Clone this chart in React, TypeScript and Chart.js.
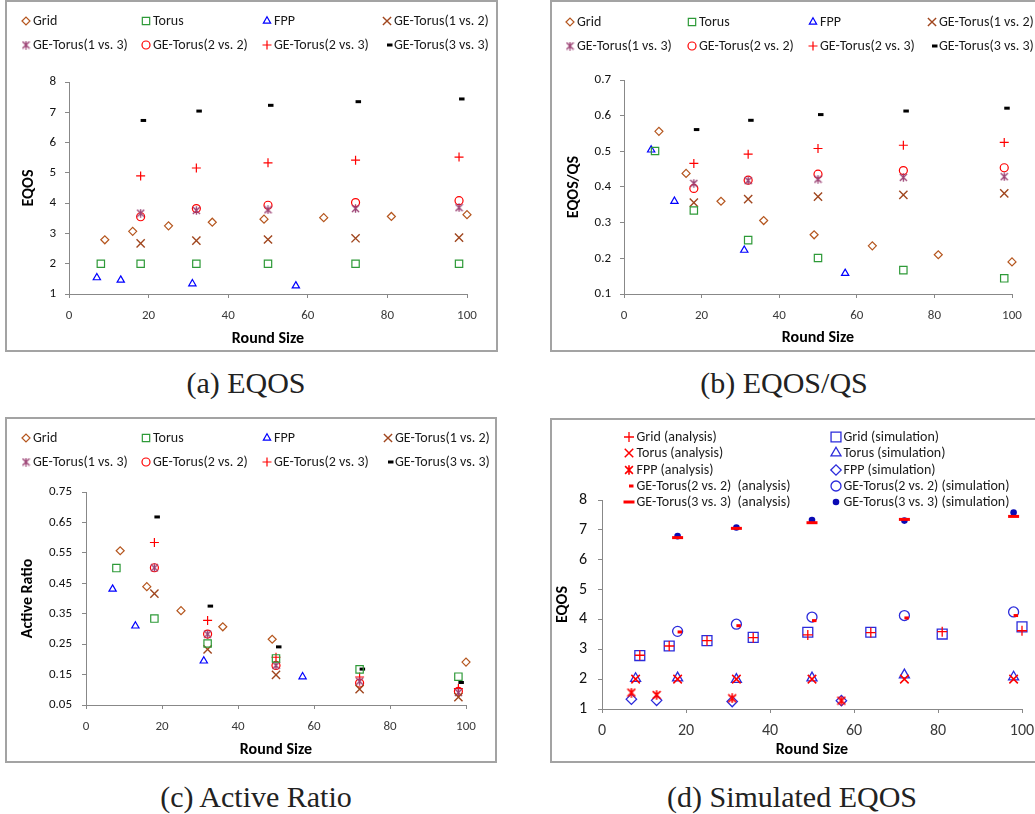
import React, { useEffect, useRef } from 'react';
import { Chart, registerables } from 'chart.js';
import { drawPoint } from 'chart.js/helpers';

Chart.register(...registerables);
Chart.defaults.font.family = 'Carlito';

// ---------------- data ----------------
const gridSizes = [9, 16, 25, 36, 49, 64, 81, 100];
const gridSizesActive = [9, 16, 25, 36, 49, 100];
const torusSizes = [8, 18, 32, 50, 72, 98];
const fppSizes = [7, 13, 31, 57];
const geSizes = [18, 32, 50, 72, 98];

const xTicks = [0, 20, 40, 60, 80, 100];
const eqosTicks = [1, 2, 3, 4, 5, 6, 7, 8];
const ratioTicks = [0.1, 0.2, 0.3, 0.4, 0.5, 0.6, 0.7];
const activeTicks = [0.05, 0.15, 0.25, 0.35, 0.45, 0.55, 0.65, 0.75];

const seriesLabels = [
  'Grid', 'Torus', 'FPP', 'GE-Torus(1 vs. 2)',
  'GE-Torus(1 vs. 3)', 'GE-Torus(2 vs. 2)', 'GE-Torus(2 vs. 3)', 'GE-Torus(3 vs. 3)',
];

// (a) EQOS
const aGrid = [2.79, 3.07, 3.25, 3.37, 3.47, 3.52, 3.56, 3.62];
const aTorus = [2, 2, 2, 2, 2, 2];
const aFpp = [1.54, 1.46, 1.34, 1.27];
const aGe12 = [2.67, 2.76, 2.8, 2.84, 2.86];
const aGe13 = [3.67, 3.76, 3.78, 3.82, 3.85];
const aGe22 = [3.55, 3.82, 3.93, 4.02, 4.08];
const aGe23 = [4.9, 5.16, 5.33, 5.42, 5.52];
const aGe33 = [6.73, 7.04, 7.23, 7.35, 7.44];

// (b) EQOS/QS
const bGrid = [0.556, 0.438, 0.36, 0.306, 0.266, 0.235, 0.21, 0.19];
const bTorus = [0.501, 0.334, 0.251, 0.201, 0.167, 0.144];
const bFpp = [0.504, 0.36, 0.223, 0.158];
const bGe12 = [0.356, 0.366, 0.373, 0.378, 0.382];
const bGe13 = [0.41, 0.418, 0.422, 0.427, 0.429];
const bGe22 = [0.396, 0.419, 0.436, 0.446, 0.454];
const bGe23 = [0.466, 0.492, 0.508, 0.517, 0.525];
const bGe33 = [0.561, 0.587, 0.603, 0.613, 0.621];

// (c) Active Ratio
const cGrid = [0.557, 0.439, 0.36, 0.307, 0.266, 0.191];
const cTorus = [0.5, 0.334, 0.252, 0.203, 0.167, 0.143];
const cFpp = [0.431, 0.31, 0.195, 0.143];
const cGe12 = [0.416, 0.233, 0.149, 0.102, 0.076];
const cGe13 = [0.501, 0.283, 0.18, 0.128, 0.091];
const cGe22 = [0.501, 0.283, 0.18, 0.122, 0.095];
const cGe23 = [0.584, 0.328, 0.207, 0.142, 0.104];
const cGe33 = [0.668, 0.375, 0.241, 0.168, 0.124];

// (d) Simulated EQOS
const dLabels = [
  'Grid (analysis)', 'Torus (analysis)', 'FPP (analysis)',
  'GE-Torus(2 vs. 2)  (analysis)', 'GE-Torus(3 vs. 3)  (analysis)',
  'Grid (simulation)', 'Torus (simulation)', 'FPP (simulation)',
  'GE-Torus(2 vs. 2) (simulation)', 'GE-Torus(3 vs. 3) (simulation)',
];
const dGridAnalysis = [2.8, 3.11, 3.29, 3.39, 3.48, 3.56, 3.59, 3.62];
const dTorusAnalysis = [2, 2, 2, 2, 2, 2];
const dFppAnalysis = [1.55, 1.47, 1.36, 1.28];
const dGe22Analysis = [3.58, 3.79, 3.96, 4.05, 4.13];
const dGe33Analysis = [6.74, 7.05, 7.24, 7.35, 7.45];
const dGridSim = [2.79, 3.11, 3.29, 3.4, 3.57, 3.57, 3.51, 3.75];
const dTorusSim = [2.02, 2.04, 1.99, 2.04, 2.14, 2.07];
const dFppSim = [1.33, 1.29, 1.25, 1.28];
const dGe22Sim = [3.6, 3.84, 4.08, 4.13, 4.25];
const dGe33Sim = [6.79, 7.08, 7.33, 7.31, 7.58];

// ---------------- styling ----------------
const AXIS = '#888888';
const TITLE_SIZE = 16;
const TITLE_FONT = { family: 'Carlito', size: TITLE_SIZE, weight: 'bold' as const };
const TITLE_LH = TITLE_SIZE * 1.2;

function makeAsterisk(color: string, size: number, lw: number) {
  const c = document.createElement('canvas');
  c.width = size;
  c.height = size;
  const g = c.getContext('2d')!;
  g.strokeStyle = color;
  g.lineWidth = lw;
  const m = lw / 2 + 0.3;
  g.beginPath();
  g.moveTo(m, m); g.lineTo(size - m, size - m);
  g.moveTo(size - m, m); g.lineTo(m, size - m);
  g.moveTo(size / 2, 0.3); g.lineTo(size / 2, size - 0.3);
  g.stroke();
  return c;
}

type Sty = { ps: any; r: number; bw: number; c: string; fill?: string };

function ds(label: string, xs: number[], ys: number[], s: Sty) {
  return {
    label,
    data: xs.map((x, i) => ({ x, y: ys[i] })),
    showLine: false,
    clip: false as any,
    pointStyle: s.ps,
    pointRadius: s.r,
    pointHoverRadius: s.r,
    pointBorderWidth: s.bw,
    pointBorderColor: s.c,
    pointBackgroundColor: s.fill ?? 'rgba(0,0,0,0)',
    borderColor: s.c,
    backgroundColor: s.fill ?? 'rgba(0,0,0,0)',
  };
}

function baseStyles(): Sty[] {
  return [
    { ps: 'rectRot', r: 4, bw: 1.2, c: '#B5561E' },
    { ps: 'rect', r: 5.2, bw: 1.2, c: '#2E9A38' },
    { ps: 'triangle', r: 4.2, bw: 1.2, c: '#0000FF' },
    { ps: 'crossRot', r: 5.8, bw: 1.4, c: '#A0461E' },
    { ps: makeAsterisk('#9A3F72', 9, 1.3), r: 4, bw: 1, c: '#9A3F72' },
    { ps: 'circle', r: 4, bw: 1.2, c: '#FF0000' },
    { ps: 'cross', r: 4.5, bw: 1.2, c: '#FF0000' },
    { ps: 'dash', r: 5.5, bw: 3, c: '#000000' },
  ];
}

function dStyles(): Sty[] {
  return [
    { ps: 'cross', r: 5, bw: 1.3, c: '#FF0000' },
    { ps: 'crossRot', r: 6, bw: 1.5, c: '#FF0000' },
    { ps: makeAsterisk('#FF0000', 10, 1.6), r: 4, bw: 1, c: '#FF0000' },
    { ps: 'dash', r: 4.5, bw: 3, c: '#FF0000' },
    { ps: 'line', r: 5.5, bw: 3, c: '#FF0000' },
    { ps: 'rect', r: 7, bw: 1.3, c: '#2B2BDB' },
    { ps: 'triangle', r: 5.8, bw: 1.3, c: '#2B2BDB' },
    { ps: 'rectRot', r: 5.2, bw: 1.3, c: '#2B2BDB' },
    { ps: 'circle', r: 5, bw: 1.3, c: '#2B2BDB' },
    { ps: 'circle', r: 3.3, bw: 0, c: '#0A0AB4', fill: '#0A0AB4' },
  ];
}

type LegendItem = { i: number; x: number; y: number };

function legendPlugin(items: LegendItem[], gap: number, font: string) {
  return {
    id: 'gridLegend',
    afterDraw(chart: any) {
      const ctx = chart.ctx;
      ctx.save();
      items.forEach((it) => {
        const d = chart.data.datasets[it.i];
        ctx.strokeStyle = d.pointBorderColor;
        ctx.fillStyle = d.pointBackgroundColor;
        ctx.lineWidth = d.pointBorderWidth;
        drawPoint(ctx, { pointStyle: d.pointStyle, rotation: 0, radius: d.pointRadius, borderWidth: d.pointBorderWidth } as any, it.x, it.y);
        ctx.fillStyle = '#1a1a1a';
        ctx.font = font;
        ctx.textAlign = 'left';
        ctx.textBaseline = 'middle';
        ctx.fillText(d.label, it.x + gap, it.y);
      });
      ctx.restore();
    },
  };
}

type Panel = {
  left: number; top: number; w: number; h: number;
  ca: { l: number; r: number; t: number; b: number };
  yTitleX: number; xTitleY: number; xTickY: number; yTickRight: number;
};

function scales(p: Panel, yVals: number[], yTitle: string, digits: number, xFont: any, yFont: any) {
  const xLH = xFont.size * 1.2;
  return {
    x: {
      type: 'linear' as const,
      min: 0,
      max: 100,
      afterBuildTicks: (s: any) => { s.ticks = xTicks.map((v) => ({ value: v })); },
      afterFit: (s: any) => { s.height = p.h - p.ca.b; },
      ticks: { font: xFont, color: '#3a3a3a', padding: p.xTickY - p.ca.b - 4 - xLH / 2, maxRotation: 0, autoSkip: false },
      grid: { drawOnChartArea: false, drawTicks: true, tickLength: 4, color: AXIS },
      border: { color: AXIS, width: 1 },
      title: { display: true, text: 'Round Size', font: TITLE_FONT, color: '#000', padding: { top: 0, bottom: p.h - p.xTitleY - TITLE_LH / 2 } },
    },
    y: {
      type: 'linear' as const,
      min: yVals[0],
      max: yVals[yVals.length - 1],
      afterBuildTicks: (s: any) => { s.ticks = yVals.map((v) => ({ value: v })); },
      afterFit: (s: any) => { s.width = p.ca.l; },
      ticks: {
        font: yFont, color: '#111', padding: p.ca.l - p.yTickRight - 4, autoSkip: false,
        callback: (v: any) => Number(v).toFixed(digits),
      },
      grid: { drawOnChartArea: false, drawTicks: true, tickLength: 4, color: AXIS },
      border: { color: AXIS, width: 1 },
      title: { display: true, text: yTitle, font: TITLE_FONT, color: '#000', padding: { top: p.yTitleX - TITLE_LH / 2, bottom: 0 } },
    },
  };
}

function baseOptions(p: Panel, sc: any) {
  return {
    animation: false as const,
    responsive: false,
    events: [],
    layout: { padding: { left: 0, top: p.ca.t, right: p.w - p.ca.r, bottom: 0 } },
    plugins: { legend: { display: false }, tooltip: { enabled: false } },
    scales: sc,
  };
}

const panelA: Panel = { left: 6, top: 1, w: 491, h: 350, ca: { l: 63, r: 461, t: 81, b: 293 }, yTitleX: 23, xTitleY: 338, xTickY: 315, yTickRight: 50 };
const panelB: Panel = { left: 551, top: 1, w: 494, h: 350, ca: { l: 73, r: 461, t: 79, b: 293 }, yTitleX: 23, xTitleY: 337, xTickY: 315, yTickRight: 60 };
const panelC: Panel = { left: 6, top: 418, w: 491, h: 344, ca: { l: 80, r: 460, t: 74, b: 287 }, yTitleX: 22, xTitleY: 332, xTickY: 309, yTickRight: 66 };
const panelD: Panel = { left: 551, top: 420, w: 494, h: 342, ca: { l: 51, r: 471, t: 80, b: 289 }, yTitleX: 12, xTitleY: 330, xTickY: 311, yTickRight: 36 };

const X_FONT_SMALL = { family: 'Carlito', size: 13 };
const Y_FONT_SMALL = { family: 'Carlito', size: 13 };
const LEGEND_FONT = '14px Carlito';

function fourColLegend(xs: number[], ys: number[]): LegendItem[] {
  const out: LegendItem[] = [];
  for (let i = 0; i < 8; i++) out.push({ i, x: xs[i % 4], y: ys[Math.floor(i / 4)] });
  return out;
}

function configA() {
  const st = baseStyles();
  const xsets = [gridSizes, torusSizes, fppSizes, geSizes, geSizes, geSizes, geSizes, geSizes];
  const ysets = [aGrid, aTorus, aFpp, aGe12, aGe13, aGe22, aGe23, aGe33];
  return {
    type: 'scatter' as const,
    data: { datasets: seriesLabels.map((l, i) => ds(l, xsets[i], ysets[i], st[i])) },
    options: baseOptions(panelA, scales(panelA, eqosTicks, 'EQOS', 0, X_FONT_SMALL, Y_FONT_SMALL)),
    plugins: [legendPlugin(fourColLegend([20, 140, 261, 381], [20, 44]), 7, LEGEND_FONT)],
  };
}

function configB() {
  const st = baseStyles();
  const xsets = [gridSizes, torusSizes, fppSizes, geSizes, geSizes, geSizes, geSizes, geSizes];
  const ysets = [bGrid, bTorus, bFpp, bGe12, bGe13, bGe22, bGe23, bGe33];
  return {
    type: 'scatter' as const,
    data: { datasets: seriesLabels.map((l, i) => ds(l, xsets[i], ysets[i], st[i])) },
    options: baseOptions(panelB, scales(panelB, ratioTicks, 'EQOS/QS', 1, X_FONT_SMALL, Y_FONT_SMALL)),
    plugins: [legendPlugin(fourColLegend([19, 141, 262, 381], [21, 45]), 7, LEGEND_FONT)],
  };
}

function configC() {
  const st = baseStyles();
  const xsets = [gridSizesActive, torusSizes, fppSizes, geSizes, geSizes, geSizes, geSizes, geSizes];
  const ysets = [cGrid, cTorus, cFpp, cGe12, cGe13, cGe22, cGe23, cGe33];
  return {
    type: 'scatter' as const,
    data: { datasets: seriesLabels.map((l, i) => ds(l, xsets[i], ysets[i], st[i])) },
    options: baseOptions(panelC, scales(panelC, activeTicks, 'Active Ratio', 2, X_FONT_SMALL, Y_FONT_SMALL)),
    plugins: [legendPlugin(fourColLegend([20, 140, 261, 382], [20, 44]), 7, LEGEND_FONT)],
  };
}

function configD() {
  const st = dStyles();
  const xsets = [gridSizes, torusSizes, fppSizes, geSizes, geSizes, gridSizes, torusSizes, fppSizes, geSizes, geSizes];
  const ysets = [dGridAnalysis, dTorusAnalysis, dFppAnalysis, dGe22Analysis, dGe33Analysis, dGridSim, dTorusSim, dFppSim, dGe22Sim, dGe33Sim];
  const rows = [17, 33, 50, 66, 82];
  const items: LegendItem[] = [];
  for (let i = 0; i < 10; i++) items.push({ i, x: i < 5 ? 78 : 285, y: rows[i % 5] });
  return {
    type: 'scatter' as const,
    data: { datasets: dLabels.map((l, i) => ds(l, xsets[i], ysets[i], st[i])) },
    options: baseOptions(panelD, scales(panelD, eqosTicks, 'EQOS', 0, { family: 'Carlito', size: 16 }, { family: 'Carlito', size: 16 })),
    plugins: [legendPlugin(items, 7.5, LEGEND_FONT)],
  };
}

function ChartCanvas({ p, make }: { p: Panel; make: () => any }) {
  const ref = useRef<HTMLCanvasElement>(null);
  useEffect(() => {
    const chart = new Chart(ref.current!, make());
    return () => chart.destroy();
  }, []);
  return (
    <canvas
      ref={ref}
      width={p.w}
      height={p.h}
      style={{ position: 'absolute', left: p.left, top: p.top, width: p.w, height: p.h }}
    />
  );
}

function Frame({ left, top, width, height }: { left: number; top: number; width: number; height: number }) {
  return (
    <div style={{ position: 'absolute', left, top, width, height, boxSizing: 'border-box', border: '2px solid #a3a3a3' }} />
  );
}

function Caption({ cx, cy, text }: { cx: number; cy: number; text: string }) {
  return (
    <div
      style={{
        position: 'absolute', left: cx - 250, top: cy - 18, width: 500, height: 36, lineHeight: '36px',
        textAlign: 'center', fontFamily: "'Liberation Serif', serif", fontSize: 30, color: '#222',
      }}
    >
      {text}
    </div>
  );
}

export default function App() {
  return (
    <div style={{ position: 'absolute', left: 0, top: 0, width: 1035, height: 814, overflow: 'hidden', background: '#fff' }}>
      <Frame left={5} top={0} width={493} height={352} />
      <Frame left={550} top={0} width={500} height={352} />
      <Frame left={5} top={417} width={492} height={346} />
      <Frame left={550} top={418} width={500} height={345} />
      <ChartCanvas p={panelA} make={configA} />
      <ChartCanvas p={panelB} make={configB} />
      <ChartCanvas p={panelC} make={configC} />
      <ChartCanvas p={panelD} make={configD} />
      <Caption cx={246} cy={383} text="(a) EQOS" />
      <Caption cx={784} cy={383} text="(b) EQOS/QS" />
      <Caption cx={256} cy={797} text="(c) Active Ratio" />
      <Caption cx={792} cy={797} text="(d) Simulated EQOS" />
    </div>
  );
}
